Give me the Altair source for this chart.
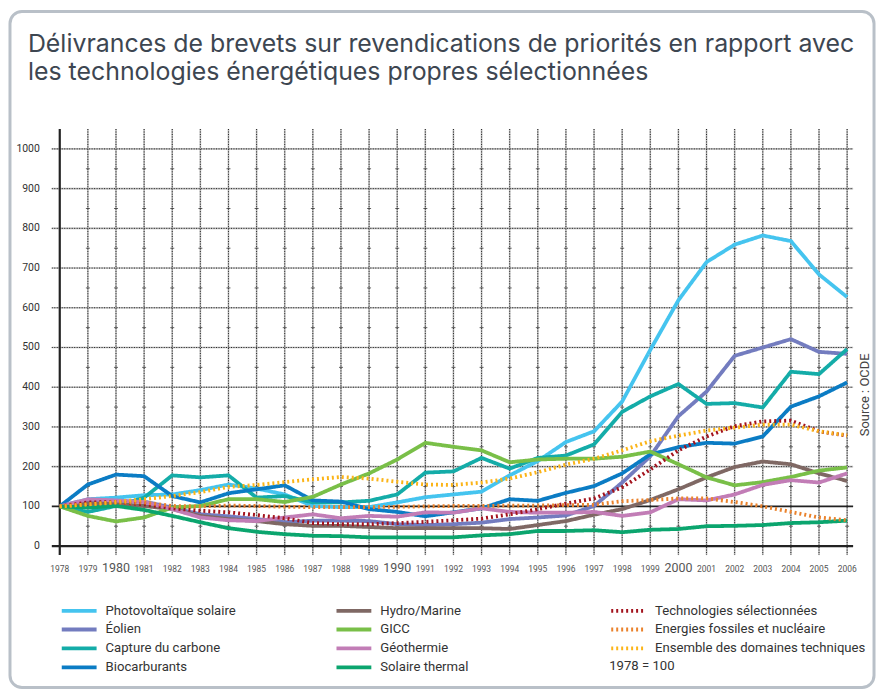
import altair as alt
import pandas as pd

years = list(range(1978, 2007))

photovoltaique = [100,118,122,128,130,141,155,145,130,101,98,98,110,123,130,137,178,214,262,289,364,494,619,715,759,782,768,684,627]
eolien = [100,112,112,112,97,80,75,68,60,64,64,63,55,53,55,59,68,72,77,101,160,226,327,389,479,500,521,489,484]
capture = [100,86,101,122,178,173,178,122,126,110,110,114,130,185,188,222,195,222,228,256,338,377,408,358,360,349,439,433,496]
biocarburants = [100,155,180,176,126,110,133,143,153,115,112,93,86,75,85,95,118,114,134,151,183,231,249,260,258,276,351,377,412]
hydro = [100,108,105,101,93,76,68,63,55,51,51,48,45,45,45,45,43,53,63,79,93,116,143,173,199,213,206,183,164]
gicc = [100,76,62,72,97,101,118,118,111,124,155,183,218,260,250,241,211,218,220,220,225,238,206,173,153,161,174,190,198]
geothermie = [100,118,115,111,93,72,65,63,72,80,70,76,74,85,84,95,86,84,84,86,76,85,118,115,130,154,166,160,183]
solaire_thermal = [100,97,101,91,76,60,45,36,30,26,25,22,22,22,22,27,30,38,38,40,35,41,43,50,51,53,58,60,64]
tech_sel = [100,110,111,105,95,89,85,78,70,58,55,55,58,61,65,69,80,93,107,120,148,193,241,276,302,314,316,289,278]
fossiles = [100,105,109,110,101,100,102,101,99,98,98,98,99,100,101,101,102,102,103,104,113,116,120,120,111,100,86,72,65]
ensemble = [100,105,111,118,126,136,149,154,161,168,174,170,162,155,154,160,170,186,205,220,241,264,278,291,298,306,306,289,279]

# legend order (column-major, 4 rows x 3 columns)
series = [
    ("Photovoltaïque solaire", photovoltaique, "#45c4ef", "solid"),
    ("Éolien", eolien, "#737cbf", "solid"),
    ("Capture du carbone", capture, "#14aca8", "solid"),
    ("Biocarburants", biocarburants, "#0b7cc4", "solid"),
    ("Hydro/Marine", hydro, "#7f6864", "solid"),
    ("GICC", gicc, "#79bf48", "solid"),
    ("Géothermie", geothermie, "#c27db6", "solid"),
    ("Solaire thermal", solaire_thermal, "#0ba56e", "solid"),
    ("Technologies sélectionnées", tech_sel, "#a3131d", "dot"),
    ("Energies fossiles et nucléaire", fossiles, "#ea822c", "dot"),
    ("Ensemble des domaines techniques", ensemble, "#fbb418", "dot"),
]
names = [s[0] for s in series]
colors = [s[2] for s in series]
dashes = [[1, 0] if s[3] == "solid" else [2, 3] for s in series]
widths = [3.8 if s[3] == "solid" else 2.8 for s in series]

title_line1 = "Délivrances de brevets sur revendications de priorités en rapport avec"
title_line2 = "les technologies énergétiques propres sélectionnées"
source_text = "Source : OCDE"
base_note = "1978 = 100"
y_ticks = list(range(0, 1001, 100))

rows = []
for name, vals, _, _ in series:
    for yr, v in zip(years, vals):
        rows.append({"annee": yr, "valeur": v, "serie": name})
df = pd.DataFrame(rows)

W, H = 808, 428
XDOM = [1977.717, 2006.319]
YDOM = [-22.6, 1050.1]
xs = alt.Scale(domain=XDOM, nice=False, zero=False)
ys = alt.Scale(domain=YDOM, nice=False, zero=False)

one = pd.DataFrame({"k": [0]})


def X(field):
    return alt.X(field, scale=xs, axis=None)


def Y(field):
    return alt.Y(field, scale=ys, axis=None)


card = alt.Chart(one).mark_rect(
    fill="white", stroke="#b9c0c8", strokeWidth=3, cornerRadius=12
).encode(x=alt.value(-42), x2=alt.value(826), y=alt.value(-118), y2=alt.value(561))

hgrid_df = pd.DataFrame({"v": list(range(200, 1001, 100))})
vgrid_df = pd.DataFrame({"annee": years[1:]})

hgrid_bg = alt.Chart(hgrid_df).mark_rule(color="#b8b8b8", strokeWidth=1.6).encode(
    y=Y("v:Q"), x=alt.value(0), x2=alt.value(805))
hgrid_fg = alt.Chart(hgrid_df).mark_rule(color="#222", strokeWidth=1, strokeDash=[1, 1.5]).encode(
    y=Y("v:Q"), x=alt.value(0), x2=alt.value(805))
vgrid_bg = alt.Chart(vgrid_df).mark_rule(color="#b8b8b8", strokeWidth=1.6).encode(
    x=X("annee:Q"), y=alt.value(0), y2=alt.value(H))
vgrid_fg = alt.Chart(vgrid_df).mark_rule(color="#222", strokeWidth=1, strokeDash=[1, 1.5]).encode(
    x=X("annee:Q"), y=alt.value(0), y2=alt.value(H))

minor_df = pd.DataFrame([{"annee": a, "v": v} for a in years[1:] for v in range(50, 1000, 100)])
minor = alt.Chart(minor_df).mark_tick(orient="horizontal", size=4, thickness=1, color="#222").encode(
    x=X("annee:Q"), y=Y("v:Q"))

zero_rule = alt.Chart(pd.DataFrame({"v": [0]})).mark_rule(color="#222", strokeWidth=2.2).encode(
    y=Y("v:Q"), x=alt.value(0), x2=alt.value(805))
hundred_rule = alt.Chart(pd.DataFrame({"v": [100]})).mark_rule(color="#222", strokeWidth=1.6).encode(
    y=Y("v:Q"), x=alt.value(0), x2=alt.value(805))
yaxis_line = alt.Chart(pd.DataFrame({"annee": [1978]})).mark_rule(color="#222", strokeWidth=2.2).encode(
    x=X("annee:Q"), y=alt.value(0), y2=alt.value(H))

# axis labels as text marks placed through the scales
xlab = alt.Chart(pd.DataFrame({"annee": years})).mark_text(
    baseline="alphabetic", align="center", font="Roboto", color="#555"
).encode(
    x=X("annee:Q"), y=alt.value(445), text=alt.Text("annee:Q", format="d"),
    size=alt.condition("datum.annee % 10 === 0", alt.value(12.5), alt.value(8.5)),
)
ylab = alt.Chart(pd.DataFrame({"v": y_ticks})).mark_text(
    baseline="middle", align="right", font="Roboto", fontSize=10.5, color="#333"
).encode(y=Y("v:Q"), x=alt.value(-12), text=alt.Text("v:Q", format="d"))

lines = alt.Chart(df).mark_line(strokeCap="butt", strokeJoin="miter").encode(
    x=X("annee:Q"),
    y=Y("valeur:Q"),
    color=alt.Color("serie:N", sort=names, scale=alt.Scale(domain=names, range=colors),
                    legend=alt.Legend(title=None, orient="none", legendX=8, legendY=476, columns=3,
                                      gridAlign="all", columnPadding=18, rowPadding=3, clipHeight=15.6,
                                      symbolType="stroke", symbolSize=1225, symbolStrokeWidth=4,
                                      labelFont="Roboto", labelFontSize=13.2, labelColor="#333",
                                      labelOffset=7, padding=0, labelLimit=400)),
    strokeDash=alt.StrokeDash("serie:N", sort=names, scale=alt.Scale(domain=names, range=dashes)),
    strokeWidth=alt.StrokeWidth("serie:N", sort=names, scale=alt.Scale(domain=names, range=widths)),
    order=alt.Order("annee:Q"),
)

title1 = alt.Chart(pd.DataFrame({"t": [title_line1]})).mark_text(
    align="left", baseline="alphabetic", font="Inter", fontSize=25, color="#3d4651"
).encode(text="t:N", x=alt.value(-24), y=alt.value(-77))
title2 = alt.Chart(pd.DataFrame({"t": [title_line2]})).mark_text(
    align="left", baseline="alphabetic", font="Inter", fontSize=25, color="#3d4651"
).encode(text="t:N", x=alt.value(-24), y=alt.value(-49))

source = alt.Chart(pd.DataFrame({"t": [source_text]})).mark_text(
    angle=270, align="center", baseline="middle", font="Roboto", fontSize=13, color="#444"
).encode(text="t:N", x=alt.value(817), y=alt.value(267))

note = alt.Chart(pd.DataFrame({"t": [base_note]})).mark_text(
    align="left", baseline="middle", font="Roboto", fontSize=13.2, color="#333"
).encode(text="t:N", x=alt.value(560), y=alt.value(539))

chart = alt.layer(
    card, hgrid_bg, vgrid_bg, hgrid_fg, vgrid_fg, minor, zero_rule, hundred_rule, yaxis_line,
    xlab, ylab, lines, title1, title2, source, note
).properties(
    width=W, height=H,
    autosize=alt.AutoSizeParams(type="none"),
    padding={"left": 44, "top": 120, "right": 22, "bottom": 136},
).configure_view(stroke=None)

chart.save("out.html", embed_options={"renderer": "svg", "actions": False})
